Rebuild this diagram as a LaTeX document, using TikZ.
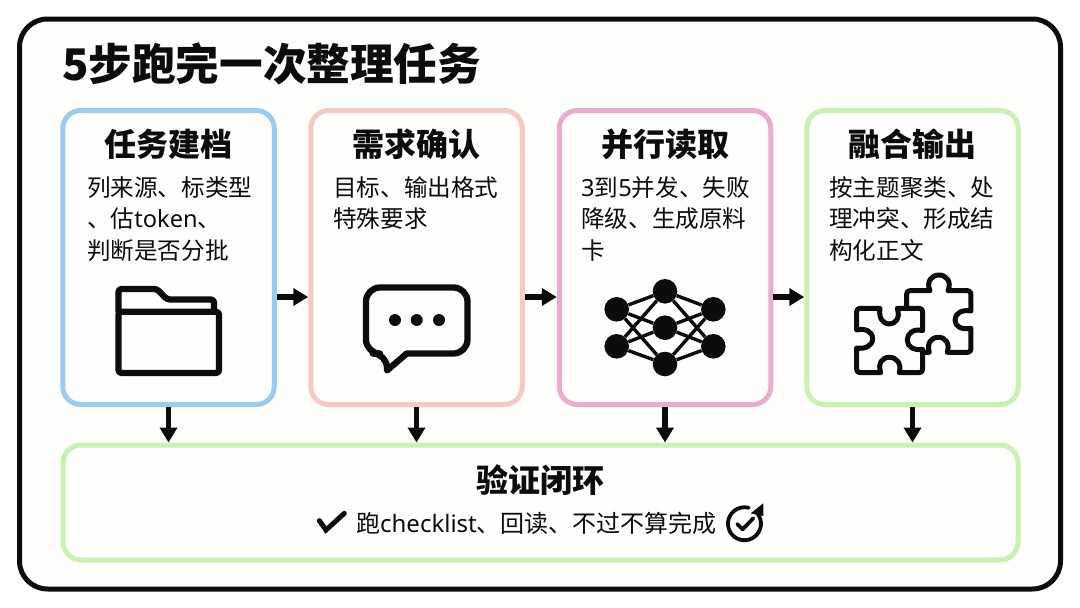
\documentclass[tikz,border=0pt]{standalone}
\usepackage{fontspec}
\setmainfont{Noto Sans CJK SC}
\newfontfamily\latn{Noto Sans}
\usetikzlibrary{arrows.meta,calc}
\definecolor{ink}{HTML}{0C0C0C}
\definecolor{cblue}{HTML}{9CCBF0}
\definecolor{cpink}{HTML}{F5C9C5}
\definecolor{cmag}{HTML}{E9ACCE}
\definecolor{cgreen}{HTML}{CBF0B4}
\definecolor{paper}{HTML}{FEFEFD}
\tikzset{
  frame/.style={draw=ink,line width=5pt,rounded corners=28pt,fill=paper,minimum width=1041pt,minimum height=570pt,inner sep=0pt},
  card/.style={draw=#1,line width=5pt,rounded corners=18pt,fill=paper,minimum width=211.5pt,minimum height=294pt,inner sep=0pt},
  band/.style={draw=cgreen,line width=5pt,rounded corners=18pt,fill=paper,minimum width=955pt,minimum height=115pt,inner sep=0pt},
  arr/.style={draw=ink,line width=5.2pt,-{Triangle[length=15pt,width=17pt]},shorten >=0pt},
  cardtitle/.style={font=\fontsize{32}{38}\selectfont\bfseries,text=ink,inner sep=0pt},
  cardbody/.style={font=\fontsize{23.6}{31.5}\selectfont,text=ink,inner sep=0pt,align=left,anchor=north west},
  icon/.style={draw=ink,line width=6.3pt,line join=round,line cap=round},
  neuron/.style={circle,fill=ink,minimum size=24.6pt,inner sep=0pt},
  synapse/.style={draw=ink,line width=3.4pt},
  puzzle/.style={draw=ink,line width=5pt,line join=round,line cap=round},
}
\begin{document}
\begin{tikzpicture}[x=1pt,y=-1pt]
\useasboundingbox (0,0) rectangle (1080,608);
\fill[white] (0,0) rectangle (1080,608);
\node[frame] (fr) at (540,304) {};
\node[font=\fontsize{43.6}{50}\selectfont\bfseries,text=ink,anchor=west,inner sep=0pt] (ttl) at (62,64) {5步跑完一次整理任务};
% cards
\node[card=cblue] (c1) at (168.5,257.5) {};
\node[card=cpink] (c2) at (416.5,257.5) {};
\node[card=cmag]  (c3) at (665,257.5) {};
\node[card=cgreen] (c4) at (912.5,257.5) {};
\node[band] (v) at (540.5,502.5) {};
% titles
\node[cardtitle] (t1) at (168.5,144.5) {任务建档};
\node[cardtitle] (t2) at (416.5,144.5) {需求确认};
\node[cardtitle] (t3) at (665,144.5) {并行读取};
\node[cardtitle] (t4) at (912.5,144.5) {融合输出};
% bodies
\node[cardbody] (b1) at (87,176) {列来源、标类型\\、估{\latn token}、\\判断是否分批};
\node[cardbody] (b2) at (333,176) {目标、输出格式\\特殊要求};
\node[cardbody] (b3) at (581,176) {{\latn 3}到{\latn 5}并发、失败\\降级、生成原料\\卡};
\node[cardbody] (b4) at (829,176) {按主题聚类、处\\理冲突、形成结\\构化正文};
% connectors
\draw[arr] ([yshift=-39.5pt]c1.east) -- ([yshift=-39.5pt]c2.west);
\draw[arr] ([yshift=-39.5pt]c2.east) -- ([yshift=-39.5pt]c3.west);
\draw[arr] ([yshift=-39.5pt]c3.east) -- ([yshift=-39.5pt]c4.west);
\foreach \c in {c1,c2,c3,c4}
  \draw[arr] (\c.south) -- (\c.south |- v.north);
% folder
\draw[icon,rounded corners=3pt] (118.5,311.7) -- (118.5,289) -- (157,289) -- (167,299.5) -- (214,299.5) -- (214,311.7);
\draw[icon,rounded corners=3pt] (118.5,311.7) -- (118.5,373) -- (219,373) -- (219,311.7) -- cycle;
% chat
\draw[icon] (387,370.5) -- (406.7,353.5) {[rounded corners=14pt] -- (467.5,353.5) -- (467.5,287.5) -- (366,287.5) -- (366,353.5) -- (386.7,353.5)} -- cycle;
\foreach \x in {395,416.7,439} \fill[ink] (\x,320) circle[radius=6pt];
% network
\node[neuron] (n1) at (616.7,309.3) {};
\node[neuron] (n2) at (616.7,346.3) {};
\node[neuron] (m1) at (665,291.3) {};
\node[neuron] (m2) at (665,327.7) {};
\node[neuron] (m3) at (665,364) {};
\node[neuron] (r1) at (713.3,309.3) {};
\node[neuron] (r2) at (713.3,346.3) {};
\foreach \a in {n1,n2,r1,r2} \foreach \b in {m1,m2,m3}
  \draw[synapse] (\a) -- (\b);
% puzzle
\begin{scope}[xshift=550pt,yshift=-260pt,x=.3333pt,y=-.3333pt]
\draw[puzzle] (930,145) -- (990,145)
  .. controls (985,175) and (1000,192) .. (1018,192)
  .. controls (1036,192) and (1052,175) .. (1042,145) -- (1108,145)
  .. controls (1114,145) and (1118,149) .. (1118,155) -- (1118,212)
  .. controls (1090,205) and (1072,220) .. (1072,240)
  .. controls (1072,260) and (1090,272) .. (1118,268) -- (1118,328)
  .. controls (1118,334) and (1114,338) .. (1108,338) -- (1048,338)
  .. controls (1055,310) and (1040,292) .. (1018,292)
  .. controls (996,292) and (983,310) .. (992,338) -- (930,338)
  .. controls (924,338) and (920,334) .. (920,328) -- (920,264)
  .. controls (945,268) and (968,258) .. (968,236)
  .. controls (968,214) and (945,204) .. (920,210) -- (920,155)
  .. controls (920,149) and (924,145) .. (930,145) -- cycle;
\draw[puzzle] (1070,137) -- (1070,102) .. controls (1070,96) and (1074,92) .. (1080,92) -- (1140,92)
  .. controls (1128,65) and (1145,45) .. (1167,45)
  .. controls (1189,45) and (1206,65) .. (1194,92) -- (1253,92)
  .. controls (1259,92) and (1263,96) .. (1263,102) -- (1263,153)
  .. controls (1235,148) and (1215,160) .. (1215,180)
  .. controls (1215,200) and (1235,210) .. (1263,205) -- (1263,267)
  .. controls (1263,273) and (1259,277) .. (1253,277) -- (1192,277)
  .. controls (1200,250) and (1187,232) .. (1165,232)
  .. controls (1143,232) and (1130,250) .. (1138,277) -- (1122,277);
\end{scope}
% verify band
\node[cardtitle] (vt) at (540.5,480) {验证闭环};
\node[font=\fontsize{24}{28}\selectfont,text=ink,inner sep=0pt] (vb) at (536.5,523) {跑{\latn checklist}、回读、不过不算完成};
\begin{scope}[xshift=300pt,yshift=-450pt,x=.3333pt,y=-.3333pt]
\draw[draw=ink,line width=5pt,line join=miter,line cap=round] (58,212) -- (78,240) -- (133,190);
\draw[draw=ink,line width=3.8pt,line cap=round] (1372,190) arc[start angle=39,end angle=-285,radius=16.5pt];
\draw[draw=ink,line width=3.8pt,line cap=round,line join=round] (1312,222) -- (1328,238) -- (1360,205);
\fill[ink] (1390,160) -- (1390,198) -- (1352,190) -- cycle;
\end{scope}
\end{tikzpicture}
\end{document}
